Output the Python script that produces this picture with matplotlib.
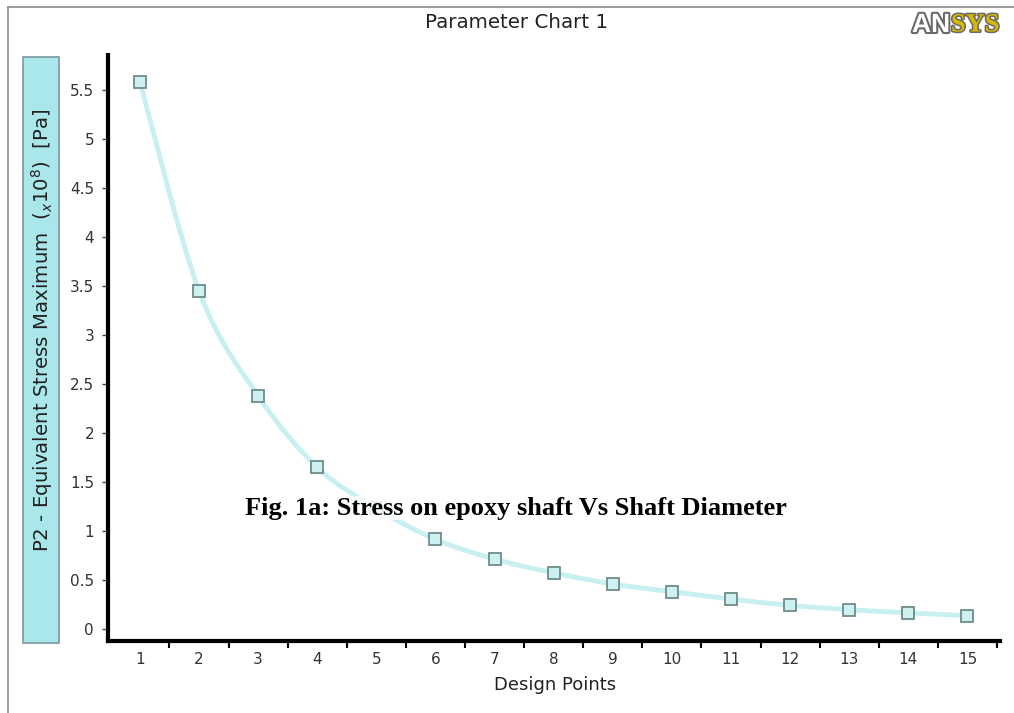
import matplotlib
matplotlib.use("Agg")
import matplotlib.pyplot as plt
import matplotlib.patheffects as pe
from matplotlib.path import Path
from matplotlib.patches import PathPatch, Rectangle
from matplotlib.lines import Line2D

# design points and equivalent stress maximum (x10^8 Pa)
design_points = [1, 2, 3, 4, 5, 6, 7, 8, 9, 10, 11, 12, 13, 14, 15]
stress = [5.585, 3.45, 2.38, 1.65, 1.23, 0.915, 0.714, 0.574, 0.459,
          0.381, 0.306, 0.242, 0.197, 0.166, 0.136]

title = "Parameter Chart 1"
ylabel = r"P2 - Equivalent Stress Maximum  ($_{x}10^{8}$)  [Pa]"
xlabel = "Design Points"
caption = "Fig. 1a: Stress on epoxy shaft Vs Shaft Diameter"

W, H = 1014, 713
fig = plt.figure(figsize=(W / 100, H / 100), dpi=100, facecolor="white")

# outer frame (top and left edges only visible)
fig.add_artist(Line2D([8 / W, 1], [1 - 7 / H, 1 - 7 / H], color="#8a8a8a", lw=1.2))
fig.add_artist(Line2D([8 / W, 8 / W], [0, 1 - 7 / H], color="#8a8a8a", lw=1.2))

fig.text(517 / W, 1 - 22 / H, title, ha="center", va="center", fontsize=14.3, color="#222222")

# ANSYS logo approximation
fig.text(912 / W, 1 - 25 / H, "AN", ha="left", va="center", fontsize=19, fontweight="bold",
         family="Liberation Sans", color="white",
         path_effects=[pe.withStroke(linewidth=3, foreground="#6a6a6a")])
fig.text(951 / W, 1 - 25 / H, "SYS", ha="left", va="center", fontsize=19, fontweight="bold",
         family="Liberation Serif", color="#d8b800",
         path_effects=[pe.withStroke(linewidth=2.2, foreground="#6a6a6a")])

# y label box
fig.add_artist(Rectangle((23 / W, 1 - 643 / H), 36 / W, 586 / H, transform=fig.transFigure,
                         facecolor="#a9e7eb", edgecolor="#7a9a9c", lw=1.2))
fig.text(42 / W, 1 - 330 / H, ylabel, rotation=90, ha="center", va="center",
         fontsize=14.2, color="#222222")

ax = fig.add_axes([108 / W, 1 - 641 / H, 892 / W, 586 / H])
ax.set_facecolor("white")

# smooth curve through the points (Catmull-Rom as cubic Bezier)
verts = [(design_points[0], stress[0])]
codes = [Path.MOVETO]
n = len(design_points)
for i in range(n - 1):
    x0, y0 = design_points[max(i - 1, 0)], stress[max(i - 1, 0)]
    x1, y1 = design_points[i], stress[i]
    x2, y2 = design_points[i + 1], stress[i + 1]
    x3, y3 = design_points[min(i + 2, n - 1)], stress[min(i + 2, n - 1)]
    c1 = (x1 + (x2 - x0) / 6, y1 + (y2 - y0) / 6)
    c2 = (x2 - (x3 - x1) / 6, y2 - (y3 - y1) / 6)
    verts += [c1, c2, (x2, y2)]
    codes += [Path.CURVE4] * 3
ax.add_patch(PathPatch(Path(verts, codes), facecolor="none", edgecolor="#c8f0f1", lw=3.5))

ax.plot(design_points, stress, ls="none", marker="s", ms=8.5, mfc="#cdf1f1",
        mec="#6f8c8c", mew=1.3, zorder=3)

ax.text(2.78, 1.235, caption, ha="left", va="center", fontsize=19, fontweight="bold",
        family="Liberation Serif", color="black", zorder=5,
        bbox=dict(facecolor="white", edgecolor="none", pad=0.5, alpha=0.85))

ax.set_xlim(0.46, 15.55)
ax.set_ylim(-0.122, 5.857)

for s in ["top", "right"]:
    ax.spines[s].set_visible(False)
ax.spines["left"].set_linewidth(3)
ax.spines["bottom"].set_linewidth(3)

yt = [0, 0.5, 1, 1.5, 2, 2.5, 3, 3.5, 4, 4.5, 5, 5.5]
ax.set_yticks(yt)
ax.set_yticklabels(["0", "0.5", "1", "1.5", "2", "2.5", "3", "3.5", "4", "4.5", "5", "5.5"])
ax.tick_params(axis="y", length=4, width=1, color="#444444", labelsize=11,
               labelcolor="#333333", pad=6)

ax.set_xticks([x + 0.5 for x in design_points])
ax.set_xticklabels([])
ax.tick_params(axis="x", which="major", length=5, width=1.5, color="black")
ax.set_xticks(design_points, minor=True)
ax.set_xticklabels([str(d) for d in design_points], minor=True)
ax.tick_params(axis="x", which="minor", length=0, labelsize=11, labelcolor="#333333", pad=8)

fig.text(555 / W, 1 - 685 / H, xlabel, ha="center", va="center", fontsize=13, color="#222222")

fig.savefig("out.png", dpi=100, facecolor="white")
